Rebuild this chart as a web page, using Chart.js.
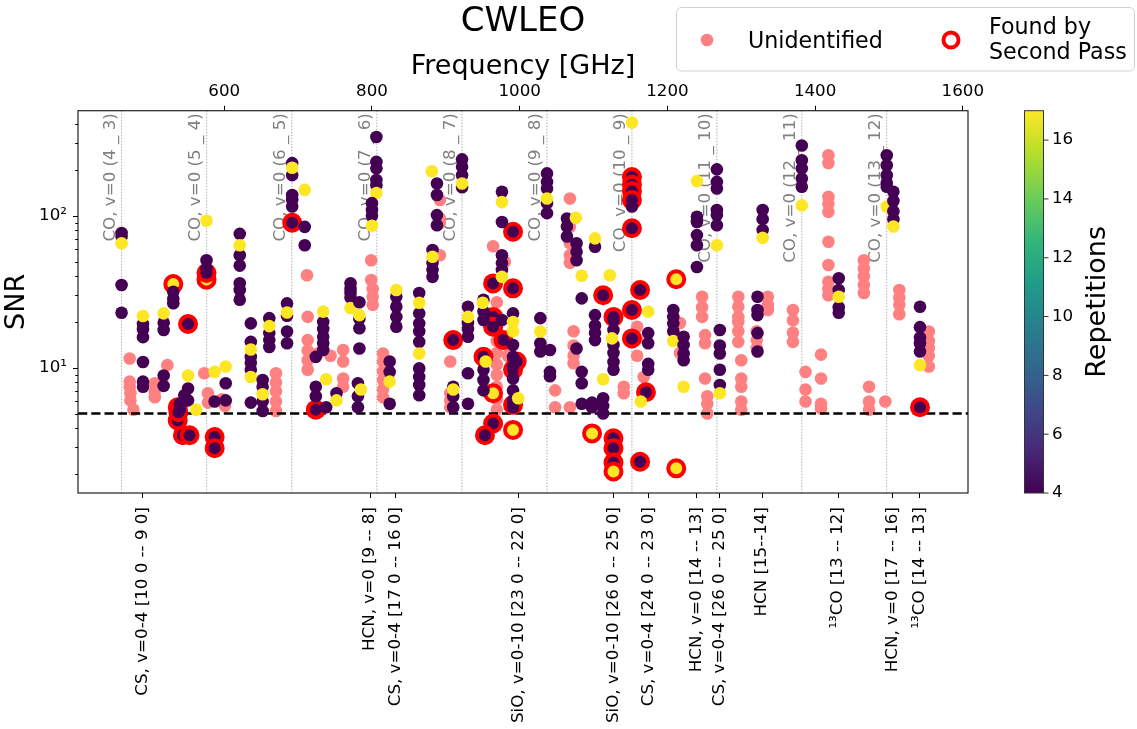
<!DOCTYPE html>
<html>
<head>
<meta charset="utf-8">
<script src="https://cdn.jsdelivr.net/npm/chart.js@4.4.0/dist/chart.umd.min.js"></script>
<style>
  html, body { margin: 0; padding: 0; background: #fff; }
  canvas { display: block; }
</style>
</head>
<body>
<canvas id="myChart" width="1137" height="729"></canvas>
<script>
var starName = "CWLEO";
var fMin = 402, fMax = 1607;
var snrMin = 1.5, snrMax = 491;
var snrCut = 5;
var repMin = 4, repMax = 17;

var topTicks = [600, 800, 1000, 1200, 1400, 1600];
var yMajor = [10, 100];
var yMinor = [2, 3, 4, 5, 6, 7, 8, 9, 20, 30, 40, 50, 60, 70, 80, 90, 200, 300, 400];
var cbarTicks = [4, 6, 8, 10, 12, 14, 16];

// CO ladder, drawn as dotted guides with labels
var coFreq = [461.04, 576.27, 691.47, 806.65, 921.80, 1036.91, 1151.99, 1267.01, 1381.99, 1496.92];
var coLabels = ["CO, v=0 (4 _ 3)", "CO, v=0 (5 _ 4)", "CO, v=0 (6 _ 5)", "CO, v=0 (7 _ 6)", "CO, v=0 (8 _ 7)",
  "CO, v=0 (9 _ 8)", "CO, v=0 (10 _ 9)", "CO, v=0 (11 _ 10)", "CO, v=0 (12 _ 11)", "CO, v=0 (13 _ 12)"];

// other lines, shown as ticks on the bottom axis
var lineFreq = [489.75, 797.43, 832.06, 998.0, 1127.6, 1174.0, 1239.9, 1271.2, 1328.1, 1431.2, 1505.0, 1541.0];
var lineLabels = ["CS, v=0-4 [10 0 -- 9 0]", "HCN, v=0 [9 -- 8]", "CS, v=0-4 [17 0 -- 16 0]", "SiO, v=0-10 [23 0 -- 22 0]",
  "SiO, v=0-10 [26 0 -- 25 0]", "CS, v=0-4 [24 0 -- 23 0]", "HCN, v=0 [14 -- 13]", "CS, v=0-4 [26 0 -- 25 0]",
  "HCN [15--14]", "\u00b9\u00b3CO [13 -- 12]", "HCN, v=0 [17 -- 16]", "\u00b9\u00b3CO [14 -- 13]"];

// [freq GHz, SNR]
var unidentified = [
  [472,11.5],[472,8.1],[472,7.5],[473,6.8],[473,6.1],[477,5.3],
  [506,7.9],[506,7.0],[506,6.4],[523,10.4],
  [573,9.2],[578,6.8],[578,5.9],[597,6.2],[601,5.6],
  [670,9.2],[670,8.0],[670,7.0],[670,6.0],[670,5.2],
  [712,40.6],[713,21.6],[713,15.2],[713,13],[713,11.2],[713,9.7],
  [727,12.4],[744,12],[761,13.1],[761,11],[761,8.5],[761,7.5],
  [799,51],[799,37.8],[801,33],[801,29.3],[801,26],
  [815,12.4],[815,11],[815,9.5],[815,8.3],[815,7.2],[815,6.4],
  [892,127],[892,96],[892,90],[892,55],
  [906,11],[906,6.8],[906,6.1],[906,5.5],
  [964,63],[980,49.8],
  [969,27],[969,22],[969,18],[969,15],[969,12.5],[969,10.5],[969,9],[969,7.5],[969,6.2],[969,5.3],
  [984,14],[984,12],
  [1068,130],[1068,84.5],[1068,66],[1068,55],[1068,49],
  [1073,17.4],[1073,14],[1073,12],[1073,10.7],
  [1048,7.1],[1048,5.5],[1068,5.5],
  [1141,7.5],[1141,6.8],[1159,18.6],[1159,15.5],[1159,12],[1168,8.7],
  [1217,19.7],[1217,15.2],[1217,12.5],
  [1247,29.3],[1247,25],[1247,21.6],[1251,16.4],[1251,14.5],[1251,8.5],
  [1254,6.5],[1254,5.8],[1254,5.0],
  [1296,29.3],[1296,25.2],[1296,21.6],[1296,20],[1296,17.4],[1296,14.8],
  [1300,11.2],[1300,8.5],[1300,7.5],[1300,6.0],[1300,5.3],
  [1321,17.4],[1321,15.2],[1321,13.5],
  [1336,29.3],[1336,26],[1336,24],
  [1370,24],[1370,20.5],[1370,17],[1370,14.8],
  [1387,9.4],[1387,7.2],[1387,6.0],
  [1408,12.2],[1408,8.5],[1408,5.8],[1408,5.4],
  [1418,250],[1418,222],[1418,133],[1418,120],[1418,106],[1418,67.5],[1418,47.4],[1418,36.8],[1418,33],[1418,30],
  [1466,51],[1466,45],[1466,40],[1466,35],[1466,31],
  [1473,7.5],[1473,6.0],[1473,5.3],[1495,6.0],
  [1514,32.5],[1514,29],[1514,26],[1514,22.5],
  [1554,17.3],[1554,15],[1554,13.5],[1554,12],[1554,10.2]
];

// [freq GHz, SNR, repetitions]
var detections = [
  [461,77,4],[461,73,4],[461,35,4],[461,23,4],[461,66,17],
  [490,19.4,4],[490,17.9,4],[490,15.9,4],[490,10.9,4],[490,8.1,4],[490,7.5,4],[490,21.9,17],
  [518,19.8,4],[518,17.7,4],[518,8.9,4],[518,7.6,4],[518,22.8,17],
  [531,31.6,4],[531,28.5,4],[531,26.6,4],
  [551,7.3,4],[551,6.1,4],[540,5.8,4],[540,5.3,4],[546,6.6,4],[551,8.9,17],[562,5.3,17],
  [587,6.0,4],[587,9.4,17],[602,7.9,4],[602,6.1,4],[602,10.2,17],
  [576,51,4],[576,45,4],[576,92.7,17],
  [621,76,4],[621,55,4],[621,47,4],[621,36,4],[621,32.5,4],[621,28,4],[621,64,17],
  [636,19.6,4],[636,14.8,4],[636,11.8,4],[636,10.8,4],[636,9.7,4],[636,5.9,4],[636,13.2,17],[636,8.7,17],
  [652,8.3,4],[652,7.5,4],[652,6.0,4],[652,5.2,4],[652,6.7,17],
  [661,21.2,4],[661,16.9,4],[661,15.2,4],[661,13.7,4],[661,18.8,17],
  [685,26.5,4],[685,22,4],[685,17.3,4],[685,14.5,4],[685,23.1,17],
  [692,222,4],[692,185,4],[692,137,4],[692,127,4],[692,115,4],[692,207,17],
  [709,84.5,4],[709,64,4],[709,148,17],
  [724,11.8,4],[724,7.5,4],[724,6.5,4],
  [734,20,4],[734,18,4],[734,16,4],[734,14.5,4],[734,13.1,4],[734,23.4,17],
  [738,5.5,4],[738,8.4,17],[752,6.8,4],[752,6.1,17],
  [771,36,4],[771,33,4],[771,31,4],[771,29,4],[771,24.7,17],
  [783,27,4],[783,21,4],[783,18.2,4],[783,13.4,4],[783,22.2,17],
  [781,7.9,4],[781,6.5,4],[781,5.5,4],[785,7.2,17],
  [806,330,4],[806,226,4],[806,205,4],[806,172,4],[806,159,4],[806,141,17],
  [800,121,4],[800,109,4],[800,100,4],[800,86,17],
  [833,29.3,4],[833,25.2,4],[833,21.6,4],[833,18.6,4],[833,32.5,17],
  [864,31,4],[864,22.8,4],[864,19.6,4],[864,17.4,4],[864,14.8,4],[864,9.9,4],[864,8.7,4],[864,7.7,4],[864,6.6,4],
  [864,26.8,17],[864,12.4,17],
  [824,11,4],[824,9.4,4],[824,5.8,4],[824,8.1,17],
  [888,163,4],[888,137,4],[888,101,4],[888,86.5,4],[881,196,17],
  [882,59.5,4],[882,48.8,4],[882,44,4],[882,39.6,4],[882,53.7,17],
  [922,235,4],[922,210,4],[922,185,4],[922,154,4],[922,163,17],
  [910,7.5,4],[910,6.5,4],[910,5.5,4],[910,7.2,17],
  [930,25.2,4],[930,19.7,4],[930,18,4],[930,16,4],[930,9.2,4],[930,5.8,4],[930,21.6,17],
  [976,144,4],[976,91,4],[976,55,4],[976,48.8,4],[976,44,4],[976,20.6,4],[976,123,17],[976,39.6,17],
  [951,28,4],[951,23.5,4],[951,20.6,4],[951,9.7,4],[951,8.3,4],[951,7.1,4],[950,26.8,17],[954,11,17],
  [991,22.8,4],[991,14.1,4],[991,11.8,4],[991,10.2,4],[991,8.5,4],[991,7.1,4],[991,6.1,4],[991,5.5,4],
  [991,20,17],[991,17.4,17],[998,6.3,17],
  [1037,190,4],[1037,167,4],[1037,151,4],[1037,121,4],[1037,104,4],[1037,130,17],
  [1064,96,4],[1064,85,4],[1064,73,4],[1076,97,17],
  [1077,66,4],[1077,58,4],[1077,51,4],[1077,13.4,4],
  [1102,62.5,4],[1102,71,17],
  [1028,21.2,4],[1028,14.5,4],[1028,12.8,4],[1028,17.3,17],
  [1041,13.1,4],[1041,9.4,4],[1041,8.8,4],
  [1084,28.6,4],[1084,9.4,4],[1084,7.9,4],[1084,5.8,4],[1084,40.3,17],
  [1102,22.2,4],[1102,19,4],[1102,17,4],[1102,15.2,4],
  [1098,5.9,4],[1098,5.5,4],
  [1113,6.3,4],[1113,5.6,4],[1113,5.0,4],[1113,8.4,17],[1122,40.6,17],
  [1127,20.6,4],[1127,17.7,4],[1127,14.1,4],[1127,12.5,4],[1127,10.9,4],[1127,9.7,4],[1125,15.6,17],
  [1152,115,4],[1152,410,17],[1164,6.0,17],
  [1174,16.9,4],[1174,14.5,4],[1174,10.6,4],[1174,9.7,4],[1174,23.4,17],
  [1208,24,4],[1208,21.6,4],[1208,19.6,4],[1208,17.4,4],[1208,15,17],
  [1222,16,4],[1222,14.1,4],[1222,12.4,4],[1222,11.2,4],[1222,7.5,17],
  [1240,98.5,4],[1240,91,4],[1240,74.6,4],[1240,64,4],[1240,46,4],[1240,169,17],
  [1267,202,4],[1267,167,4],[1267,151,4],[1267,109,4],[1267,101,4],[1267,86.5,4],[1267,64,17],
  [1271,17.7,4],[1271,14,4],[1271,12.4,4],[1271,9.7,4],[1271,7.7,4],[1271,6.8,17],
  [1322,29.3,4],[1322,24,4],[1322,22.2,4],[1322,16.9,4],[1322,12.8,4],
  [1329,109,4],[1329,95,4],[1329,80.5,4],[1329,71.5,17],
  [1382,290,4],[1382,232,4],[1382,205,4],[1382,176,4],[1382,155,4],[1382,117,17],
  [1432,38.8,4],[1432,32.5,4],[1432,25,4],[1432,23,4],[1432,29.3,17],
  [1497,250,4],[1497,215,4],[1497,185,4],[1497,165,4],[1497,155,4],[1497,115,17],
  [1506,144,4],[1506,125,4],[1506,107,4],[1506,95,4],[1506,85,17],
  [1542,25.2,4],[1542,18.5,4],[1542,15.8,4],[1542,14.5,4],[1542,12.8,4],[1542,10.4,17]
];

// lines picked up only by the second pass: [freq GHz, SNR, repetitions]
var secondPass = [
  [531,35.5,17],[576,38,17],[576,42,4],[551,19.4,4],
  [537,5.5,4],[537,4.5,4],[544,3.6,4],[553,3.6,4],[538,5.1,4],
  [587,3.5,4],[587,2.96,4],
  [692,90,4],[724,5.3,4],[910,15.2,4],
  [964,35.9,4],[964,21.6,4],[964,18.6,4],[978,15.2,4],
  [991,78.5,4],[991,33.3,4],[991,9.7,4],[991,5.7,4],[996,11,4],
  [951,11.8,4],[964,6.8,17],[964,4.3,4],[953,3.6,4],[991,3.9,17],
  [1098,3.7,17],[1113,30,4],
  [1127,21.6,4],[1127,3.44,4],[1127,2.96,4],[1127,2.38,4],[1127,2.08,17],
  [1152,180,4],[1152,160,4],[1152,145,4],[1152,127,4],[1152,82.7,4],[1152,24,4],[1152,15.6,4],
  [1163,32.5,4],[1163,2.41,4],[1171,6.9,4],
  [1212,38.2,17],[1212,2.18,17],
  [1542,5.5,4]
];

var viridis = ['#440154', '#482878', '#3e4989', '#31688e', '#26828e', '#1f9e89', '#35b779', '#6ece58', '#b5de2b', '#fde725'];
var pink = '#ff8080';
var fontFamily = "'DejaVu Sans', sans-serif";

function hexToRgb(h) {
  return [parseInt(h.slice(1, 3), 16), parseInt(h.slice(3, 5), 16), parseInt(h.slice(5, 7), 16)];
}

function repColor(r) {
  var t = (r - repMin) / (repMax - repMin);
  t = Math.max(0, Math.min(1, t)) * (viridis.length - 1);
  var i = Math.floor(t);
  if (i >= viridis.length - 1) return viridis[viridis.length - 1];
  var a = hexToRgb(viridis[i]), b = hexToRgb(viridis[i + 1]), f = t - i;
  return 'rgb(' + a.map(function (v, k) { return Math.round(v + (b[k] - v) * f); }).join(',') + ')';
}

function toPoints(arr) {
  return arr.map(function (d) { return { x: d[0], y: d[1], r: d[2] }; });
}

// CO guides go under the points
var coGuides = {
  id: 'coGuides',
  beforeDatasetsDraw: function (chart) {
    var ctx = chart.ctx, a = chart.chartArea, xs = chart.scales.x;
    ctx.save();
    coFreq.forEach(function (f, i) {
      var px = xs.getPixelForValue(f);
      ctx.strokeStyle = '#999';
      ctx.lineWidth = 0.8;
      ctx.setLineDash([1.5, 1.5]);
      ctx.beginPath();
      ctx.moveTo(px, a.top);
      ctx.lineTo(px, a.bottom);
      ctx.stroke();
      ctx.setLineDash([]);
      ctx.save();
      ctx.translate(px - 6.8, a.top + 2.5);
      ctx.rotate(-Math.PI / 2);
      ctx.fillStyle = '#808080';
      ctx.font = '16.7px ' + fontFamily;
      ctx.textAlign = 'right';
      ctx.textBaseline = 'alphabetic';
      ctx.fillText(coLabels[i], 0, 0);
      ctx.restore();
    });
    ctx.restore();
  }
};

var decor = {
  id: 'decor',
  afterDraw: function (chart) {
    var ctx = chart.ctx, a = chart.chartArea, ys = chart.scales.y;
    ctx.save();

    // frame
    ctx.strokeStyle = '#222';
    ctx.lineWidth = 1.2;
    ctx.strokeRect(a.left, a.top, a.right - a.left, a.bottom - a.top);

    // log ticks on the SNR axis
    ctx.strokeStyle = '#000';
    ctx.lineWidth = 1;
    yMajor.concat(yMinor).forEach(function (v) {
      var py = Math.round(ys.getPixelForValue(v)) + 0.5;
      var len = yMajor.indexOf(v) >= 0 ? 5 : 2.8;
      ctx.beginPath();
      ctx.moveTo(a.left, py);
      ctx.lineTo(a.left - len, py);
      ctx.stroke();
    });

    // title
    ctx.fillStyle = '#000';
    ctx.font = '34px ' + fontFamily;
    ctx.textAlign = 'center';
    ctx.textBaseline = 'alphabetic';
    ctx.fillText(starName, (a.left + a.right) / 2, 31);

    // colour bar
    var cx0 = 1024.5, cx1 = 1043.5;
    var grad = ctx.createLinearGradient(0, a.bottom, 0, a.top);
    viridis.forEach(function (c, i) { grad.addColorStop(i / (viridis.length - 1), c); });
    ctx.fillStyle = grad;
    ctx.fillRect(cx0, a.top, cx1 - cx0, a.bottom - a.top);
    ctx.strokeStyle = '#333';
    ctx.lineWidth = 1;
    ctx.strokeRect(cx0, a.top, cx1 - cx0, a.bottom - a.top);
    ctx.fillStyle = '#000';
    ctx.font = '16.7px ' + fontFamily;
    ctx.textAlign = 'left';
    ctx.textBaseline = 'middle';
    cbarTicks.forEach(function (v) {
      var py = a.bottom - (v - repMin) / (repMax - repMin) * (a.bottom - a.top);
      ctx.beginPath();
      ctx.moveTo(cx1, py);
      ctx.lineTo(cx1 + 5, py);
      ctx.stroke();
      ctx.fillText(String(v), cx1 + 8.5, py);
    });
    ctx.save();
    ctx.translate(1097.5, (a.top + a.bottom) / 2);
    ctx.rotate(-Math.PI / 2);
    ctx.font = '27px ' + fontFamily;
    ctx.textAlign = 'center';
    ctx.textBaseline = 'middle';
    ctx.fillText('Repetitions', 0, 0);
    ctx.restore();

    // legend box
    var lx = 676.5, ly = 7.5, lw = 458, lh = 63.5, rr = 5;
    ctx.beginPath();
    ctx.moveTo(lx + rr, ly);
    ctx.arcTo(lx + lw, ly, lx + lw, ly + lh, rr);
    ctx.arcTo(lx + lw, ly + lh, lx, ly + lh, rr);
    ctx.arcTo(lx, ly + lh, lx, ly, rr);
    ctx.arcTo(lx, ly, lx + lw, ly, rr);
    ctx.closePath();
    ctx.fillStyle = 'rgba(255,255,255,0.8)';
    ctx.fill();
    ctx.strokeStyle = '#d0d0d0';
    ctx.stroke();

    ctx.fillStyle = pink;
    ctx.beginPath();
    ctx.arc(707, 40, 6.3, 0, Math.PI * 2);
    ctx.fill();
    ctx.strokeStyle = 'red';
    ctx.lineWidth = 4;
    ctx.fillStyle = '#fff';
    ctx.beginPath();
    ctx.arc(951, 40, 7.5, 0, Math.PI * 2);
    ctx.fill();
    ctx.stroke();

    ctx.fillStyle = '#000';
    ctx.font = '22.2px ' + fontFamily;
    ctx.textAlign = 'left';
    ctx.textBaseline = 'alphabetic';
    ctx.fillText('Unidentified', 748, 48);
    ctx.fillText('Found by', 989, 34);
    ctx.fillText('Second Pass', 989, 59);
    ctx.restore();
  }
};

Chart.defaults.font.family = fontFamily;
Chart.defaults.color = '#000';

var myChart = new Chart(document.getElementById('myChart'), {
  type: 'scatter',
  data: {
    datasets: [
      {
        label: 'Identified',
        data: toPoints(detections),
        pointRadius: 6.3,
        pointBorderWidth: 0,
        pointBackgroundColor: function (c) { return c.raw ? repColor(c.raw.r) : viridis[0]; },
        order: 1
      },
      {
        label: 'Found by Second Pass',
        data: toPoints(secondPass),
        pointRadius: 8,
        pointBorderWidth: 4,
        pointBorderColor: 'red',
        pointBackgroundColor: function (c) { return c.raw ? repColor(c.raw.r) : viridis[0]; },
        order: 2
      },
      {
        type: 'line',
        label: 'SNR cut',
        data: [{ x: fMin, y: snrCut }, { x: fMax, y: snrCut }],
        borderColor: '#000',
        borderWidth: 2.5,
        borderDash: [9.25, 4],
        pointRadius: 0,
        fill: false,
        order: 3
      },
      {
        label: 'Unidentified',
        data: toPoints(unidentified),
        pointRadius: 6.3,
        pointBorderWidth: 0,
        pointBackgroundColor: pink,
        order: 4
      }
    ]
  },
  options: {
    responsive: false,
    devicePixelRatio: 1,
    animation: false,
    layout: { padding: { left: 0, right: 169, top: 0, bottom: 0 } },
    plugins: { legend: { display: false }, tooltip: { enabled: false } },
    scales: {
      x: {
        type: 'linear',
        position: 'top',
        bounds: 'data',
        min: fMin,
        max: fMax,
        afterBuildTicks: function (s) { s.ticks = topTicks.map(function (v) { return { value: v }; }); },
        afterFit: function (s) { s.height = 110.7; },
        ticks: {
          font: { size: 16.7 }, color: '#000', padding: 4, maxRotation: 0, autoSkip: false,
          callback: function (v) { return String(v); }
        },
        grid: { drawOnChartArea: false, tickLength: 5, tickColor: '#000', tickWidth: 1 },
        border: { display: false },
        title: { display: true, text: 'Frequency [GHz]', font: { size: 27 }, color: '#000', padding: { top: 50.8, bottom: 0 } }
      },
      xLines: {
        type: 'linear',
        position: 'bottom',
        bounds: 'data',
        min: fMin,
        max: fMax,
        afterBuildTicks: function (s) { s.ticks = lineFreq.map(function (v) { return { value: v }; }); },
        afterFit: function (s) { s.height = 729 - 493; },
        ticks: {
          font: { size: 16.7 }, color: '#000', padding: 9, minRotation: 90, maxRotation: 90, autoSkip: false,
          callback: function (v, i) { return lineLabels[i]; }
        },
        grid: { drawOnChartArea: false, tickLength: 5, tickColor: '#000', tickWidth: 1 },
        border: { display: false }
      },
      y: {
        type: 'logarithmic',
        position: 'left',
        bounds: 'data',
        min: snrMin,
        max: snrMax,
        afterBuildTicks: function (s) { s.ticks = yMajor.map(function (v) { return { value: v }; }); },
        afterFit: function (s) { s.width = 78; },
        ticks: {
          font: { size: 16.7 }, color: '#000', padding: 6, autoSkip: false,
          callback: function (v) { return v === 10 ? '10\u00b9' : (v === 100 ? '10\u00b2' : ''); }
        },
        grid: { drawOnChartArea: false, tickLength: 5, tickColor: 'rgba(0,0,0,0)' },
        border: { display: false },
        title: { display: true, text: 'SNR', font: { size: 27 }, color: '#000', padding: { top: 1, bottom: 0 } }
      }
    }
  },
  plugins: [coGuides, decor]
});
</script>
</body>
</html>
